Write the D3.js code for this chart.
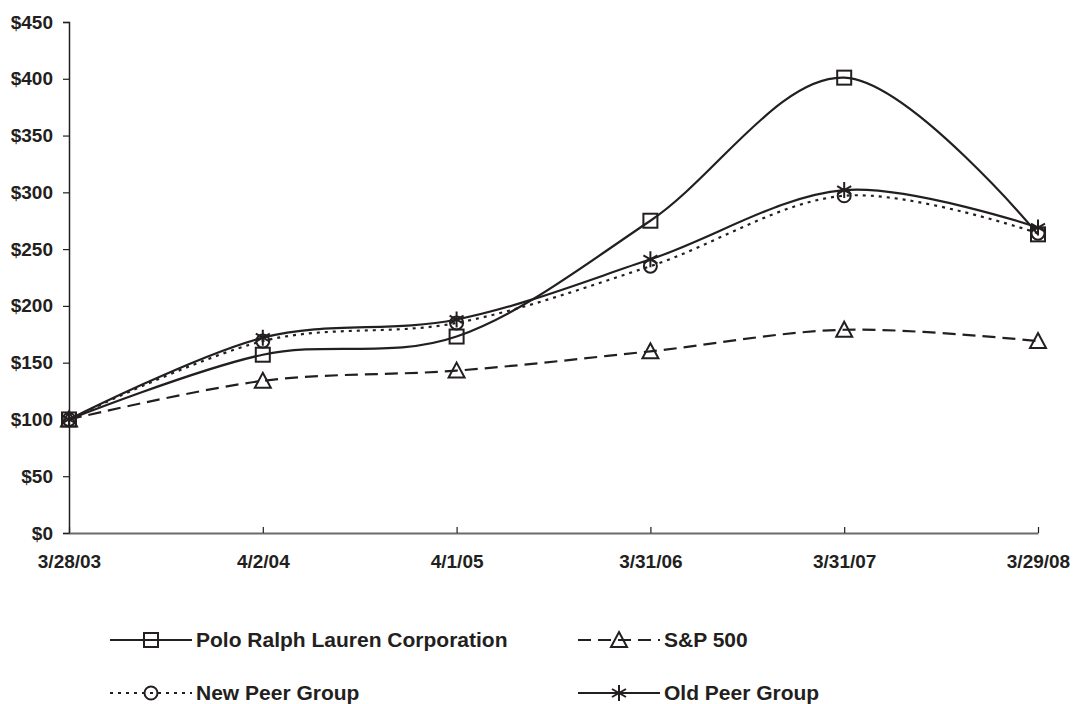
<!DOCTYPE html>
<html>
<head>
<meta charset="utf-8">
<script src="https://cdn.jsdelivr.net/npm/d3@7"></script>
<style>
  body { margin: 0; background: #fff; }
  text { font-family: "Liberation Sans", Arial, sans-serif; font-weight: bold; fill: #231f20; }
</style>
</head>
<body>
<div id="chart"></div>
<script>
// data
var dates = ["3/28/03", "4/2/04", "4/1/05", "3/31/06", "3/31/07", "3/29/08"];
var polo = [100, 157, 173, 275, 401, 263];
var sp500 = [100, 134, 143, 160, 179, 169];
var newPeer = [100, 169, 185, 235, 297, 264];
var oldPeer = [100, 172, 188, 241, 302, 269];
var yTicks = [0, 50, 100, 150, 200, 250, 300, 350, 400, 450];

var width = 1073, height = 704;
var ink = "#231f20";

var svg = d3.select("#chart").append("svg")
  .attr("width", width)
  .attr("height", height);

// scales
var x = d3.scalePoint().domain(dates).range([69, 1038]);
var y = d3.scaleLinear().domain([0, 450]).range([533, 22]);

// y axis
var yAxis = svg.append("g")
  .attr("transform", "translate(69,0)")
  .call(d3.axisLeft(y).tickValues(yTicks).tickSize(6).tickPadding(10)
    .tickFormat(function(d){ return "$" + d; }));
yAxis.select(".domain").attr("stroke", ink).attr("stroke-width", 1.5);
yAxis.selectAll(".tick line").attr("stroke", ink).attr("stroke-width", 1.2);
yAxis.selectAll(".tick text").attr("font-size", 19).attr("fill", ink)
  .attr("font-family", "Liberation Sans, Arial, sans-serif").attr("font-weight", "bold");

// x axis
var xAxis = svg.append("g")
  .attr("transform", "translate(0,533)")
  .call(d3.axisBottom(x).tickSize(-6).tickSizeOuter(0).tickPadding(22));
xAxis.select(".domain").attr("stroke", "#6b6b6b").attr("stroke-width", 2.2);
xAxis.selectAll(".tick line").attr("stroke", ink).attr("stroke-width", 1.2);
xAxis.selectAll(".tick text").attr("font-size", 19).attr("fill", ink)
  .attr("font-family", "Liberation Sans, Arial, sans-serif").attr("font-weight", "bold");

var series = [
  {name: "Polo Ralph Lauren Corporation", values: polo, dash: null, marker: "square"},
  {name: "S&P 500", values: sp500, dash: "13,7", marker: "triangle"},
  {name: "New Peer Group", values: newPeer, dash: "3,5", marker: "circle"},
  {name: "Old Peer Group", values: oldPeer, dash: null, marker: "star"}
];

var line = d3.line()
  .x(function(d, i){ return x(dates[i]); })
  .y(function(d){ return y(d); })
  .curve(d3.curveCardinal.tension(0));

function drawMarker(g, type, cx, cy) {
  var m = g.append("g").attr("transform", "translate(" + cx + "," + cy + ")")
    .attr("fill", "none").attr("stroke", ink).attr("stroke-width", 2);
  if (type == "square") {
    m.append("rect").attr("x", -7).attr("y", -7).attr("width", 14).attr("height", 14);
  } else if (type == "triangle") {
    m.append("path").attr("d", "M0,-8L8,7L-8,7Z");
  } else if (type == "circle") {
    m.append("circle").attr("r", 6.5);
  } else {
    m.append("path").attr("d", "M0,-8V8M-7,-4L7,4M-7,4L7,-4");
  }
}

series.forEach(function(s){
  svg.append("path")
    .attr("d", line(s.values))
    .attr("fill", "none")
    .attr("stroke", ink)
    .attr("stroke-width", 2.2)
    .attr("stroke-dasharray", s.dash);
});

series.forEach(function(s){
  var g = svg.append("g");
  s.values.forEach(function(v, i){
    drawMarker(g, s.marker, x(dates[i]), y(v));
  });
});

// legend
var legendPos = [[110, 640], [578, 640], [110, 693], [578, 693]];
series.forEach(function(s, i){
  var lx = legendPos[i][0], ly = legendPos[i][1];
  var g = svg.append("g");
  g.append("line")
    .attr("x1", lx).attr("x2", lx + 82)
    .attr("y1", ly).attr("y2", ly)
    .attr("stroke", ink).attr("stroke-width", 2.2)
    .attr("stroke-dasharray", s.dash);
  drawMarker(g, s.marker, lx + 41, ly);
  g.append("text")
    .attr("x", lx + 86).attr("y", ly)
    .attr("dy", "0.35em")
    .attr("font-size", 21)
    .text(s.name);
});
</script>
</body>
</html>
